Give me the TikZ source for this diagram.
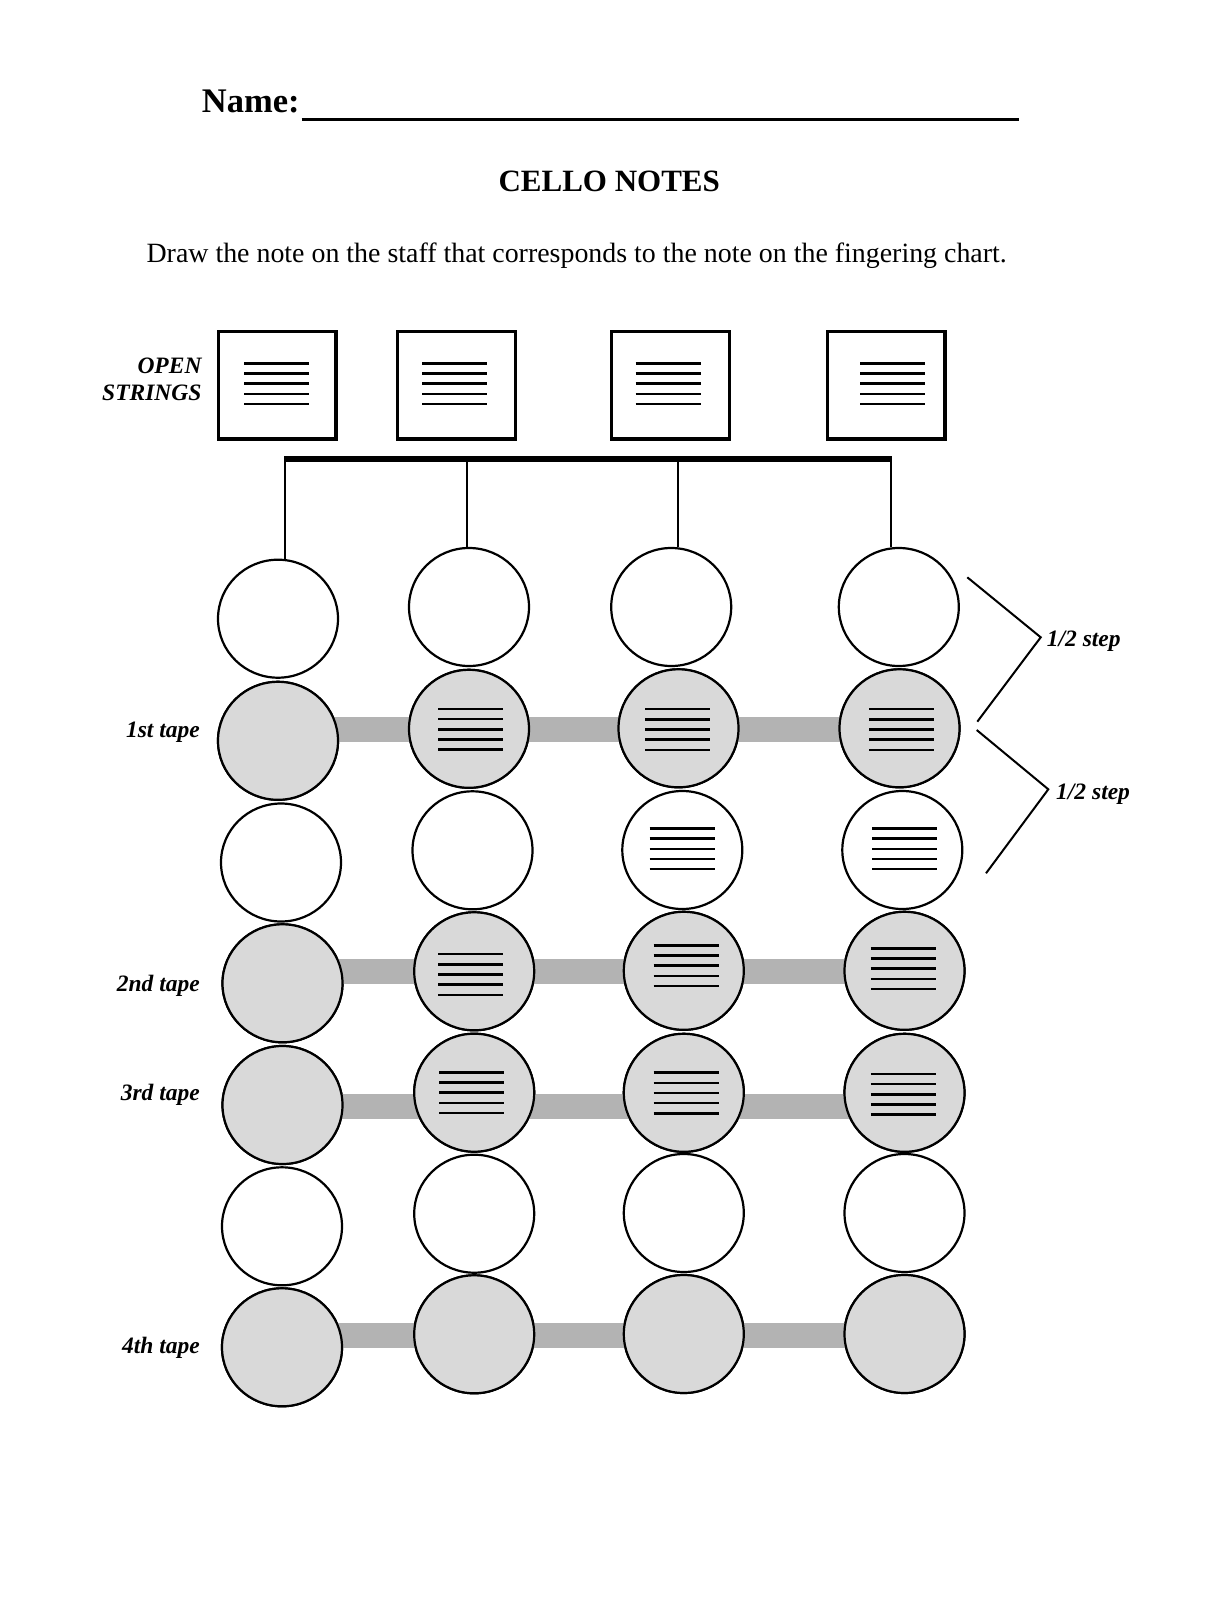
\documentclass[tikz,border=0pt]{standalone}
\usepackage{fontspec}
\setmainfont{Liberation Serif}
\usetikzlibrary{shapes.geometric}
\definecolor{tapegray}{HTML}{B3B3B3}
\definecolor{fretgray}{HTML}{D9D9D9}
\newcommand\mystaff[2]{%
  \foreach \k in {-2,...,2}{\draw[staffline] ({#1-32.5},{#2+\k*10.2}) -- ({#1+32.5},{#2+\k*10.2});}}
\begin{document}
\begin{tikzpicture}[x=1pt,y=-1pt,
  note/.style={ellipse, draw=black, line width=2.2, minimum width=120, minimum height=118, inner sep=0pt},
  open/.style={note, fill=white},
  taped/.style={note, fill=fretgray},
  sbox/.style={rectangle, draw=black, line width=3.3, fill=white, minimum width=117.7, minimum height=107.4, inner sep=0pt},
  staffline/.style={line width=2.5, black},
  bus/.style={line width=6, black},
  wire/.style={line width=2, black},
  tape/.style={line width=25, tapegray},
  brk/.style={line width=2, black},
  lbl/.style={font=\fontsize{23.5}{27}\selectfont\bfseries\itshape, inner sep=0pt},
]
\useasboundingbox (0,0) rectangle (1220,1600);
\fill[white] (0,0) rectangle (1220,1600);

% header
\node[font=\fontsize{34.5}{40}\selectfont\bfseries, anchor=base west, inner sep=0pt] (name) at (201.7,112.3) {Name:};
\coordinate (nl1) at (301.7,119.3);
\coordinate (nl2) at (1019.3,119.3);
\draw[line width=3] (nl1) -- (nl2);
\node[font=\fontsize{31}{36}\selectfont\bfseries, anchor=base, inner sep=0pt] (title) at (609.2,191) {CELLO NOTES};
\node[font=\fontsize{27.9}{32}\selectfont, anchor=base, inner sep=0pt] (sub) at (576.7,262.7) {Draw the note on the staff that corresponds to the note on the fingering chart.};

% open string boxes
\node[lbl, anchor=base east] (lopen) at (201.7,373) {OPEN};
\node[lbl, anchor=base east] (lstr) at (201.7,400.7) {STRINGS};
\node[sbox] (o1) at (277,385.3) {};
\node[sbox] (o2) at (456.3,385.3) {};
\node[sbox] (o3) at (670.5,385.3) {};
\node[sbox] (o4) at (886.2,385.3) {};
\mystaff{276.8}{383.7}
\mystaff{454.8}{383.7}
\mystaff{668}{383.7}
\mystaff{892.8}{383.7}

% tape levels
\coordinate (t1) at (0,729.5);
\coordinate (t2) at (0,971.8);
\coordinate (t3) at (0,1106.5);
\coordinate (t4) at (0,1335);

% circles
\node[open]  (c11) at (278,618.7) {};
\node[taped] (c12) at (278,740.8) {};
\node[open]  (c13) at (281,862.5) {};
\node[taped] (c14) at (282.5,983.3) {};
\node[taped] (c15) at (282.5,1105) {};
\node[open]  (c16) at (282,1226.3) {};
\node[taped] (c17) at (282,1347.3) {};

\node[open]  (c21) at (469,607) {};
\node[taped] (c22) at (469,728.8) {};
\node[open]  (c23) at (472.5,850.3) {};
\node[taped] (c24) at (474.2,971.3) {};
\node[taped] (c25) at (474.2,1092.7) {};
\node[open]  (c26) at (474.2,1213.7) {};
\node[taped] (c27) at (474.2,1334.3) {};

\node[open]  (c31) at (671.2,607) {};
\node[taped] (c32) at (678.5,728.3) {};
\node[open]  (c33) at (682.3,850) {};
\node[taped] (c34) at (683.8,970.8) {};
\node[taped] (c35) at (683.8,1092.8) {};
\node[open]  (c36) at (683.8,1213) {};
\node[taped] (c37) at (683.8,1334) {};

\node[open]  (c41) at (898.8,607) {};
\node[taped] (c42) at (899.5,728.3) {};
\node[open]  (c43) at (902.3,850) {};
\node[taped] (c44) at (904.5,970.8) {};
\node[taped] (c45) at (904.5,1092.8) {};
\node[open]  (c46) at (904.5,1213) {};
\node[taped] (c47) at (904.5,1334) {};

% tapes, then shaded circles redrawn on top
\draw[tape] (c12.center |- t1) -- (c42.center |- t1);
\draw[tape] (c14.center |- t2) -- (c44.center |- t2);
\draw[tape] (c15.center |- t3) -- (c45.center |- t3);
\draw[tape] (c17.center |- t4) -- (c47.center |- t4);
\foreach \n in {c12,c22,c32,c42,c14,c24,c34,c44,c15,c25,c35,c45,c17,c27,c37,c47}{
  \draw[line width=2.2, fill=fretgray] (\n.center) ellipse [x radius=60, y radius=59];
}

% staffs inside circles
\mystaff{470.8}{729.3}
\mystaff{677.5}{729.5}
\mystaff{901.8}{729.5}
\mystaff{682}{848.8}
\mystaff{904.8}{848.8}
\mystaff{470.8}{974.5}
\mystaff{686.2}{965.7}
\mystaff{903.3}{968.7}
\mystaff{471.5}{1092.7}
\mystaff{686.2}{1093}
\mystaff{903.3}{1094.3}

% bus and wires
\coordinate (b1) at (285,459.3);
\coordinate (b2) at (466.7,459.3);
\coordinate (b3) at (678,459.3);
\coordinate (b4) at (890.7,459.3);
\draw[bus] ([xshift=-1pt]b1) -- ([xshift=1pt]b4);
\draw[wire] (b1) -- (b1 |- c11.north);
\draw[wire] (b2) -- (b2 |- c21.north);
\draw[wire] (b3) -- (b3 |- c31.north);
\draw[wire] (b4) -- (b4 |- c41.north);

% tape labels
\node[lbl, anchor=base east] (l1) at (200,737) {1st tape};
\node[lbl, anchor=base east] (l2) at (200,991) {2nd tape};
\node[lbl, anchor=base east] (l3) at (200,1100) {3rd tape};
\node[lbl, anchor=base east] (l4) at (200,1353) {4th tape};

% half-step brackets
\coordinate (k1) at (967.3,577.3);
\coordinate (k2) at (1040.7,637.3);
\coordinate (k3) at (977.3,721.7);
\coordinate (k4) at (976.7,730);
\coordinate (k5) at (1048.3,789.3);
\coordinate (k6) at (986,873.3);
\draw[brk] (k1) -- (k2) -- (k3);
\draw[brk] (k4) -- (k5) -- (k6);
\node[lbl, anchor=base west] (h1) at (1046.7,646) {1/2 step};
\node[lbl, anchor=base west] (h2) at (1056,799.3) {1/2 step};
\end{tikzpicture}
\end{document}
